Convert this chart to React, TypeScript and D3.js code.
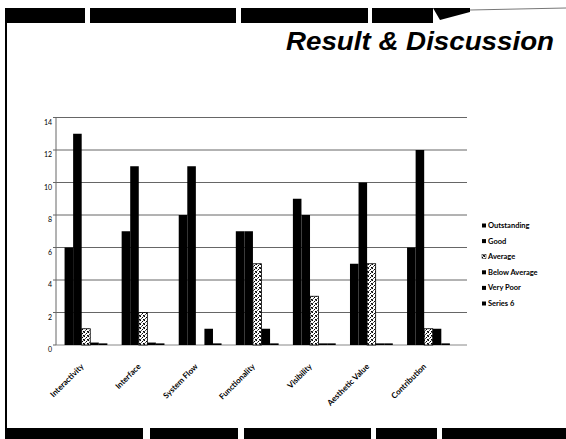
import React from "react";
import * as d3 from "d3";

const categories = ["Interactivity", "Interface", "System Flow", "Functionality", "Visibility", "Aesthetic Value", "Contribution"];
const seriesNames = ["Outstanding", "Good", "Average", "Below Average", "Very Poor", "Series 6"];
const outstanding = [6, 7, 8, 7, 9, 5, 6];
const good = [13, 11, 11, 7, 8, 10, 12];
const average = [1, 2, 0, 5, 3, 5, 1];
const belowAverage = [0.15, 0.15, 1, 1, 0.1, 0.1, 1];
const veryPoor = [0.1, 0.1, 0.1, 0.1, 0.1, 0.1, 0.1];
const series6 = [0, 0, 0, 0, 0, 0, 0];
const yTicks = [0, 2, 4, 6, 8, 10, 12, 14];
const seriesValues = [outstanding, good, average, belowAverage, veryPoor, series6];

const W = 566;
const H = 439;

export default function App() {
  const x = d3.scaleBand<string>().domain(categories).range([56, 467]).paddingInner(0.1).paddingOuter(0.15);
  const xs = d3.scaleBand<string>().domain(seriesNames).range([0, x.bandwidth()]);
  const y = d3.scaleLinear().domain([0, 14]).range([345, 117.5]);
  const fills = ["#000", "#000", "url(#speck)", "#000", "#000", "#000"];
  const legendY = d3.scalePoint<string>().domain(seriesNames).range([227, 305]);

  return (
    <svg width={W} height={H} style={{ position: "absolute", left: 0, top: 0, background: "#fff" }}>
      <defs>
        <pattern id="speck" width="4" height="4" patternUnits="userSpaceOnUse">
          <rect width="4" height="4" fill="#fff" />
          <rect x="0" y="0" width="1" height="1" fill="#000" />
          <rect x="2" y="1" width="1" height="1" fill="#000" />
          <rect x="1" y="2" width="1" height="1" fill="#555" />
          <rect x="3" y="3" width="1" height="1" fill="#000" />
          <rect x="3" y="0" width="1" height="1" fill="#777" />
          <rect x="0" y="3" width="1" height="1" fill="#333" />
        </pattern>
      </defs>
      {/* slide frame */}
      <rect x={0} y={0} width={W} height={H} fill="#fff" />
      <rect x={5} y={8} width={2} height={431} fill="#000" />
      {[[7, 85], [90, 236], [241, 368], [372, 433]].map(([a, b], i) => (
        <rect key={"t" + i} x={a} y={8} width={b - a} height={15} fill="#000" />
      ))}
      <path d="M433,8 L470,8 L470,12 L440,20 Z" fill="#000" />
      <line x1={470} y1={10} x2={566} y2={8} stroke="#777" strokeWidth={1} />
      {[[7, 143], [150, 238], [244, 371], [376, 437], [442, 566]].map(([a, b], i) => (
        <rect key={"b" + i} x={a} y={428} width={b - a} height={11} fill="#000" />
      ))}
      <text x={554} y={50} textAnchor="end" fontFamily="Liberation Sans, Arial, sans-serif" fontWeight="bold" fontStyle="italic" fontSize={26} textLength={268} lengthAdjust="spacingAndGlyphs">Result &amp; Discussion</text>

      {/* gridlines */}
      {yTicks.filter(t => t > 0).map(t => (
        <line key={"g" + t} x1={56} x2={467} y1={y(t)} y2={y(t)} stroke="#666" strokeWidth={1} />
      ))}
      <line x1={56} x2={467} y1={y(0)} y2={y(0)} stroke="#888" strokeWidth={1} />
      <line x1={56} x2={56} y1={y(14)} y2={y(0)} stroke="#666" strokeWidth={1} />
      {yTicks.map(t => (
        <g key={"y" + t}>
          <line x1={53} x2={56} y1={y(t)} y2={y(t)} stroke="#666" />
          <text x={52} y={y(t) + 7} textAnchor="end" fontFamily="Lato, sans-serif" fontSize={7}>{t}</text>
        </g>
      ))}

      {/* bars */}
      {categories.map((c, ci) => (
        <g key={c}>
          {seriesNames.map((s, si) => {
            const v = seriesValues[si][ci];
            if (v <= 0) return null;
            return (
              <rect key={s} x={(x(c) as number) + (xs(s) as number)} y={y(v)} width={xs.bandwidth()} height={y(0) - y(v)}
                fill={fills[si]} stroke="#000" strokeWidth={si === 2 ? 0.8 : 0} />
            );
          })}
        </g>
      ))}

      {/* category labels */}
      {categories.map(c => {
        const cx = (x(c) as number) + x.bandwidth() / 2 - 6;
        const cy = 367;
        return (
          <text key={"l" + c} x={cx} y={cy} transform={`rotate(-45, ${cx}, ${cy})`} textAnchor="end"
            fontFamily="Lato, sans-serif" fontWeight="bold" fontSize={8}>{c}</text>
        );
      })}

      {/* legend */}
      {seriesNames.map((s, si) => {
        const ly = legendY(s) as number;
        return (
          <g key={"lg" + s}>
            <rect x={482} y={ly - 3.5} width={4} height={4} fill={fills[si]} stroke="#000" strokeWidth={si === 2 ? 0.5 : 0} />
            <text x={488} y={ly + 1} fontFamily="Lato, sans-serif" fontWeight="bold" fontSize={7.5}>{s}</text>
          </g>
        );
      })}
    </svg>
  );
}
